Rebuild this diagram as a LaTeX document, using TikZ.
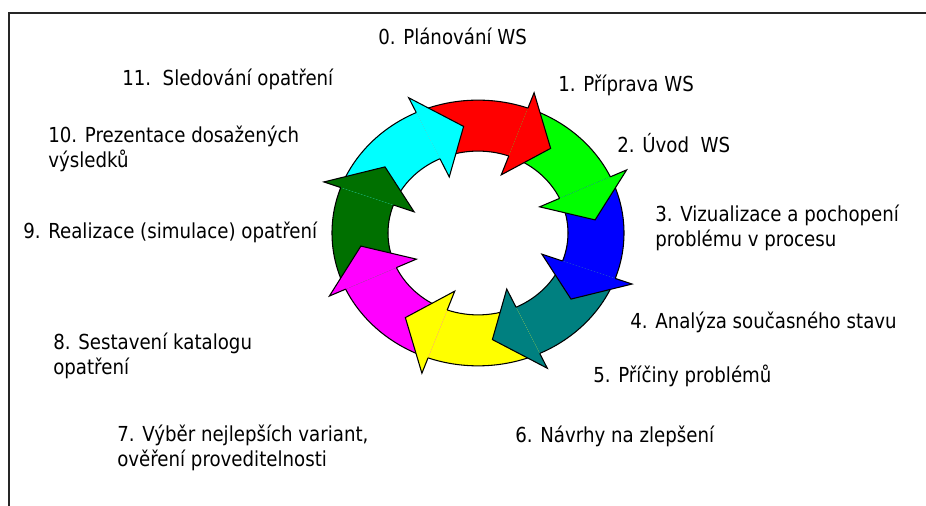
\documentclass[tikz,border=0pt]{standalone}
\usepackage{fontspec}
\setmainfont{DejaVu Sans}[FakeStretch=0.88]
\definecolor{arRed}{HTML}{FF0000}
\definecolor{arGreen}{HTML}{00FF00}
\definecolor{arBlue}{HTML}{0000FF}
\definecolor{arTeal}{HTML}{008080}
\definecolor{arYellow}{HTML}{FFFF00}
\definecolor{arMagenta}{HTML}{FF00FF}
\definecolor{arDkGreen}{HTML}{007000}
\definecolor{arCyan}{HTML}{00FFFF}
\begin{document}
\begin{tikzpicture}[x=0.75pt,y=0.75pt,
  lbl/.style={anchor=base west,inner sep=0pt,align=left,
    font=\fontsize{15.5}{18.75}\selectfont},
  outline/.style={draw=black,line width=0.8pt}]
\useasboundingbox (0,0) rectangle (926,506);
% frame: top and left edges
\draw[line width=1.1pt,black!85] (9,0) -- (9,493) -- (926,493);

% cycle of eight arrows
\begin{scope}[shift={(478,273)},yscale=0.91]
  % ring bodies
  \foreach \a/\c in {70/arRed,25/arGreen,-20/arBlue,-65/arTeal,-110/arYellow,-155/arMagenta,-200/arDkGreen,-245/arCyan}{
    \pgfmathsetmacro\b{\a+45}
    \fill[\c] (\a:146) arc[start angle=\a,end angle=\b,radius=146]
      -- (\b:90) arc[start angle=\b,end angle=\a,radius=90] -- cycle;
  }
  \draw[outline] (0,0) circle[radius=146];
  \draw[outline] (0,0) circle[radius=90];
  % arrow heads
  \foreach \a/\c in {70/arRed,25/arGreen,-20/arBlue,-65/arTeal,-110/arYellow,-155/arMagenta,-200/arDkGreen,-245/arCyan}{
    \pgfmathsetmacro\t{\a-18}
    \fill[\c] (\a:146) -- (\a:164) -- (\t:118) -- (\a:68) -- (\a:90) -- cycle;
    \draw[outline] (\a:146) -- (\a:164) -- (\t:118) -- (\a:68) -- (\a:90);
  }
\end{scope}

% step labels (two-line labels are placed by their last baseline)
\node[lbl] (s0)  at (378,461) {0. Plánování WS};
\node[lbl] (s1)  at (558,414) {1. Příprava WS};
\node[lbl] (s2)  at (617,353) {2. Úvod\ \ WS};
\node[lbl] (s3)  at (655,259) {3. Vizualizace a pochopení\\problému v procesu};
\node[lbl] (s4)  at (630,177) {4. Analýza současného stavu};
\node[lbl] (s5)  at (593,123) {5. Příčiny problémů};
\node[lbl] (s6)  at (515,63)  {6. Návrhy na zlepšení};
\node[lbl] (s7)  at (117,39)  {7. Výběr nejlepších variant,\\ověření proveditelnosti};
\node[lbl] (s8)  at (53,131)  {8. Sestavení katalogu\\opatření};
\node[lbl] (s9)  at (23,267)  {9. Realizace (simulace) opatření};
\node[lbl] (s10) at (48,338)  {10. Prezentace dosažených\\výsledků};
\node[lbl] (s11) at (122,420) {11.\ \ Sledování opatření};
\end{tikzpicture}
\end{document}
